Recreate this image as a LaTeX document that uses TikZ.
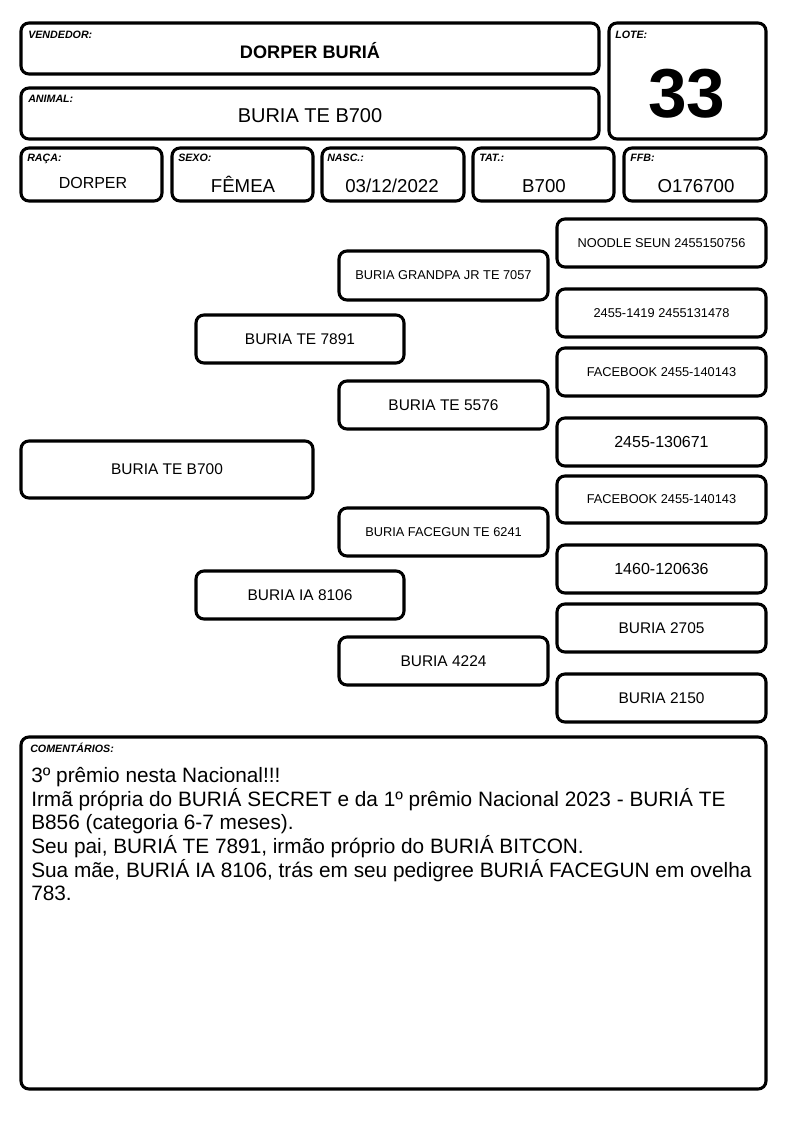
\documentclass[tikz,border=0pt]{standalone}
\usepackage{fontspec}
\setmainfont{Liberation Sans}
\newcommand\mkbox[5]{\node[box, minimum width={(#4-#2)*0.75pt}, minimum height={(#5-#3)*0.75pt}] (#1) at (#2,#3) {};}
\tikzset{
  box/.style={draw=black, line width=2.3pt, rounded corners=6pt, inner sep=0pt, outer sep=0pt, anchor=north west},
  lbl/.style={font=\fontsize{8}{9}\selectfont\bfseries\itshape, anchor=base west, inner sep=0pt},
  val/.style={font=\fontsize{14}{16}\selectfont, anchor=base, inner sep=0pt},
  pbig/.style={font=\fontsize{11.6}{13}\selectfont, inner sep=0pt},
  psmall/.style={font=\fontsize{9.6}{11}\selectfont, inner sep=0pt},
  ctext/.style={font=\fontsize{15.6}{17.7}\selectfont, anchor=base west, inner sep=0pt},
}
\begin{document}
\begin{tikzpicture}[x=0.75pt, y=-0.75pt]
\useasboundingbox[fill=white] (0,0) rectangle (794,1123);
% header boxes
\mkbox{vend}{21}{23}{599}{74}
\mkbox{anim}{21}{88}{599}{139}
\mkbox{lote}{609}{23}{766}{139}
\mkbox{raca}{21}{148}{162}{201}
\mkbox{sexo}{172}{148}{313}{201}
\mkbox{nasc}{322}{148}{464}{201}
\mkbox{tat}{473}{148}{614}{201}
\mkbox{ffb}{624}{148}{766}{201}
% labels
\node[lbl] (l-vend) at (28,39) {VENDEDOR:};
\node[lbl] (l-anim) at (28,103) {ANIMAL:};
\node[lbl] (l-lote) at (615,39) {LOTE:};
\node[lbl] (l-raca) at (27,162) {RAÇA:};
\node[lbl] (l-sexo) at (178,162) {SEXO:};
\node[lbl] (l-nasc) at (327,162) {NASC.:};
\node[lbl] (l-tat) at (479,162) {TAT.:};
\node[lbl] (l-ffb) at (630,162) {FFB:};
% values
\node[val, font=\fontsize{13.6}{16}\selectfont\bfseries] (v-vend) at (310,59) {DORPER BURIÁ};
\node[val, font=\fontsize{15}{17}\selectfont] (v-anim) at (310,123) {BURIA TE B700};
\node[val, font=\fontsize{52}{56}\selectfont\bfseries] (v-lote) at (687,118) {33};
\node[val, font=\fontsize{12}{14}\selectfont] (v-raca) at (93,189) {DORPER};
\node[val] (v-sexo) at (243,193) {FÊMEA};
\node[val] (v-nasc) at (392,193) {03/12/2022};
\node[val] (v-tat) at (544,193) {B700};
\node[val] (v-ffb) at (696,193) {O176700};
% pedigree boxes
\mkbox{p0}{21}{441}{313}{498}
\mkbox{p1}{196}{315}{404}{363}
\mkbox{p2}{196}{571}{404}{619}
\mkbox{p11}{339}{251}{548}{300}
\mkbox{p12}{339}{381}{548}{429}
\mkbox{p21}{339}{508}{548}{556}
\mkbox{p22}{339}{637}{548}{685}
\mkbox{g1}{557}{219}{766}{267}
\mkbox{g2}{557}{289}{766}{337}
\mkbox{g3}{557}{348}{766}{396}
\mkbox{g4}{557}{418}{766}{466}
\mkbox{g5}{557}{476}{766}{523}
\mkbox{g6}{557}{545}{766}{593}
\mkbox{g7}{557}{604}{766}{652}
\mkbox{g8}{557}{674}{766}{722}
\node[pbig] (t-p0) at (p0.center) {BURIA TE B700};
\node[pbig] (t-p1) at (p1.center) {BURIA TE 7891};
\node[pbig] (t-p2) at (p2.center) {BURIA IA 8106};
\node[psmall] (t-p11) at (p11.center) {BURIA GRANDPA JR TE 7057};
\node[pbig] (t-p12) at (p12.center) {BURIA TE 5576};
\node[psmall] (t-p21) at (p21.center) {BURIA FACEGUN TE 6241};
\node[pbig] (t-p22) at (p22.center) {BURIA 4224};
\node[psmall] (t-g1) at (g1.center) {NOODLE SEUN 2455150756};
\node[psmall] (t-g2) at (g2.center) {2455-1419 2455131478};
\node[psmall] (t-g3) at (g3.center) {FACEBOOK 2455-140143};
\node[pbig, font=\fontsize{12}{14}\selectfont] (t-g4) at (g4.center) {2455-130671};
\node[psmall] (t-g5) at (g5.center) {FACEBOOK 2455-140143};
\node[pbig, font=\fontsize{12}{14}\selectfont] (t-g6) at (g6.center) {1460-120636};
\node[pbig] (t-g7) at (g7.center) {BURIA 2705};
\node[pbig] (t-g8) at (g8.center) {BURIA 2150};
% comments
\mkbox{com}{21}{737}{766}{1089}
\node[lbl] (l-com) at (30,752) {COMENTÁRIOS:};
\node[ctext] (c1) at (31,782) {3º prêmio nesta Nacional!!!};
\node[ctext] (c2) at (31,806) {Irmã própria do BURIÁ SECRET e da 1º prêmio Nacional 2023 - BURIÁ TE};
\node[ctext] (c3) at (31,829) {B856 (categoria 6-7 meses).};
\node[ctext] (c4) at (31,853) {Seu pai, BURIÁ TE 7891, irmão próprio do BURIÁ BITCON.};
\node[ctext] (c5) at (31,877) {Sua mãe, BURIÁ IA 8106, trás em seu pedigree BURIÁ FACEGUN em ovelha};
\node[ctext] (c6) at (31,900) {783.};
\end{tikzpicture}
\end{document}
